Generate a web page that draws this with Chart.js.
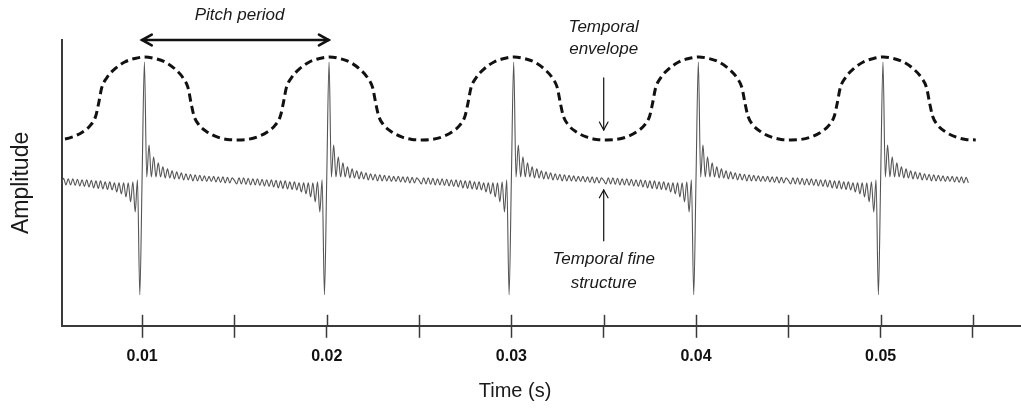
<!DOCTYPE html>
<html>
<head>
<meta charset="utf-8">
<script src="https://cdn.jsdelivr.net/npm/chart.js@4.4.1/dist/chart.umd.min.js"></script>
<style>
html, body { margin: 0; padding: 0; background: #fff; }
</style>
</head>
<body>
<canvas id="myChart" width="1021" height="413"></canvas>
<script>
var ctx = document.getElementById("myChart").getContext('2d');

var FONT = 'Arial, "Liberation Sans", sans-serif';
var axisColor = '#3a3a3a';

// pulse instants (s) and one pitch period of the fine structure
// samples every 0.125 ms, from -5 ms to +4.875 ms around each pulse
var pulseTimes = [0.01, 0.02, 0.03, 0.04, 0.05];
var sampleStep = 0.000125;
var pulseShape = [
    -0.005, -0.04, 0.02, -0.04, 0.02, -0.045, 0.015, -0.05, 0.01, -0.05,
    0.01, -0.055, 0.005, -0.06, 0.0, -0.065, 0.0, -0.07, -0.005, -0.08,
    -0.01, -0.085, -0.01, -0.09, -0.02, -0.095, -0.02, -0.10, -0.03, -0.12,
    -0.03, -0.14, -0.03, -0.17, -0.03, -0.22, -0.02, -0.32, 0.0, -1.15,
    0.02, 1.18, 0.03, 0.35, 0.03, 0.23, 0.03, 0.17, 0.03, 0.13,
    0.02, 0.11, 0.02, 0.09, 0.01, 0.08, 0.01, 0.07, 0.0, 0.06,
    0.0, 0.055, -0.01, 0.05, -0.01, 0.045, -0.01, 0.04, -0.015, 0.035,
    -0.015, 0.035, -0.02, 0.03, -0.025, 0.03, -0.03, 0.025, -0.03, 0.02
];
var waveStart = 0.005625;
var waveEnd = 0.05475;

// temporal envelope: one hump per pulse (offsets in ms)
var envelopeTimes = [0.01015, 0.02015, 0.03015, 0.04015, 0.05015, 0.06015];
var envelopeOffsets = [-5.0, -4.46, -3.91, -3.37, -2.93, -2.66, -2.5, -2.34, -2.07, -1.63, -1.09, -0.54,
    0, 0.54, 1.09, 1.63, 2.07, 2.34, 2.5, 2.66, 2.93, 3.37, 3.91, 4.46];
var envelopeShape = [0.40, 0.405, 0.43, 0.48, 0.55, 0.64, 0.77, 0.92, 1.02, 1.11, 1.18, 1.215,
    1.23, 1.215, 1.18, 1.11, 1.02, 0.92, 0.77, 0.64, 0.55, 0.48, 0.43, 0.405];
var envelopeEnd = 0.0556;

var xTicks = [0.01, 0.015, 0.02, 0.025, 0.03, 0.035, 0.04, 0.045, 0.05, 0.055];
var xTickLabels = ['0.01', '', '0.02', '', '0.03', '', '0.04', '', '0.05', ''];

var wavePoints = [];
var i, j, t;
for (i = 0; i < pulseTimes.length; i++) {
    for (j = 0; j < pulseShape.length; j++) {
        t = pulseTimes[i] + (j - 40) * sampleStep;
        if (t >= waveStart - 1e-9 && t <= waveEnd + 1e-9) {
            wavePoints.push({x: t, y: pulseShape[j]});
        }
    }
}

var envelopePoints = [];
for (i = 0; i < envelopeTimes.length; i++) {
    for (j = 0; j < envelopeOffsets.length; j++) {
        t = envelopeTimes[i] + envelopeOffsets[j] / 1000;
        if (t <= envelopeEnd) {
            envelopePoints.push({x: t, y: envelopeShape[j]});
        }
    }
}

// annotations in data units (time, amplitude)
var notes = [
    {text: 'Pitch period', x: 0.01528, y: 1.65},
    {text: 'Temporal', x: 0.035, y: 1.53},
    {text: 'envelope', x: 0.035, y: 1.31},
    {text: 'Temporal fine', x: 0.035, y: -0.79},
    {text: 'structure', x: 0.035, y: -1.03}
];
var arrows = [
    {x1: 0.01, y1: 1.40, x2: 0.0201, y2: 1.40, both: true, width: 2.6, head: 11},
    {x1: 0.035, y1: 1.02, x2: 0.035, y2: 0.50, both: false, width: 1.2, head: 9},
    {x1: 0.035, y1: -0.61, x2: 0.035, y2: -0.10, both: false, width: 1.2, head: 9}
];
var xTitle = {text: 'Time (s)', x: 0.0302, y: -2.12};

function arrowHead(c, x1, y1, x2, y2, size) {
    var a = Math.atan2(y2 - y1, x2 - x1);
    c.beginPath();
    c.moveTo(x2 - size * Math.cos(a - 0.5), y2 - size * Math.sin(a - 0.5));
    c.lineTo(x2, y2);
    c.lineTo(x2 - size * Math.cos(a + 0.5), y2 - size * Math.sin(a + 0.5));
    c.stroke();
}

var annotate = {
    id: 'annotate',
    afterDraw: function(chart) {
        var c = chart.ctx, xs = chart.scales.x, ys = chart.scales.y;
        var bottom = chart.chartArea.bottom;
        c.save();
        // tick marks also reach above the axis
        c.strokeStyle = axisColor;
        c.lineWidth = 1.5;
        xTicks.forEach(function(v) {
            var px = Math.round(xs.getPixelForValue(v)) + 0.5;
            c.beginPath();
            c.moveTo(px, bottom);
            c.lineTo(px, bottom - 11);
            c.stroke();
        });

        c.strokeStyle = '#111';
        c.lineCap = 'round';
        arrows.forEach(function(a) {
            var x1 = xs.getPixelForValue(a.x1), y1 = ys.getPixelForValue(a.y1);
            var x2 = xs.getPixelForValue(a.x2), y2 = ys.getPixelForValue(a.y2);
            c.lineWidth = a.width;
            c.beginPath();
            c.moveTo(x1, y1);
            c.lineTo(x2, y2);
            c.stroke();
            arrowHead(c, x1, y1, x2, y2, a.head);
            if (a.both) arrowHead(c, x2, y2, x1, y1, a.head);
        });

        c.fillStyle = '#1a1a1a';
        c.textAlign = 'center';
        c.textBaseline = 'middle';
        c.font = 'italic 17px ' + FONT;
        notes.forEach(function(n) {
            c.fillText(n.text, xs.getPixelForValue(n.x), ys.getPixelForValue(n.y));
        });
        c.font = '20px ' + FONT;
        c.fillText(xTitle.text, xs.getPixelForValue(xTitle.x), ys.getPixelForValue(xTitle.y));
        c.restore();
    }
};

var myChart = new Chart(ctx, {
    type: 'line',
    data: {
        datasets: [{
            label: 'Temporal fine structure',
            data: wavePoints,
            borderColor: '#555',
            borderWidth: 1.1,
            pointRadius: 0,
            cubicInterpolationMode: 'monotone'
        }, {
            label: 'Temporal envelope',
            data: envelopePoints,
            borderColor: '#111',
            borderWidth: 3,
            borderDash: [8, 4.5],
            pointRadius: 0,
            cubicInterpolationMode: 'monotone'
        }]
    },
    options: {
        responsive: false,
        animation: false,
        layout: { padding: { left: 4, right: 0, top: 40, bottom: 38 } },
        plugins: { legend: { display: false }, tooltip: { enabled: false } },
        scales: {
            x: {
                type: 'linear',
                min: 0.00564,
                max: 0.0576,
                afterBuildTicks: function(scale) {
                    scale.ticks = xTicks.map(function(v) { return {value: v}; });
                },
                ticks: {
                    autoSkip: false,
                    maxRotation: 0,
                    padding: 9,
                    color: '#111',
                    font: { family: FONT, size: 16, weight: 'bold' },
                    callback: function(value, index) { return xTickLabels[index]; }
                },
                grid: { drawOnChartArea: false, drawTicks: true, tickLength: 12, tickWidth: 1.5, tickColor: axisColor },
                border: { color: axisColor, width: 2 }
            },
            y: {
                type: 'linear',
                min: -1.46,
                max: 1.40,
                ticks: { display: false },
                grid: { drawOnChartArea: false, drawTicks: false },
                border: { color: axisColor, width: 2 },
                title: {
                    display: true,
                    text: 'Amplitude',
                    color: '#1a1a1a',
                    font: { family: FONT, size: 23 },
                    padding: { top: 4, bottom: 26 }
                }
            }
        }
    },
    plugins: [annotate]
});
</script>
</body>
</html>
